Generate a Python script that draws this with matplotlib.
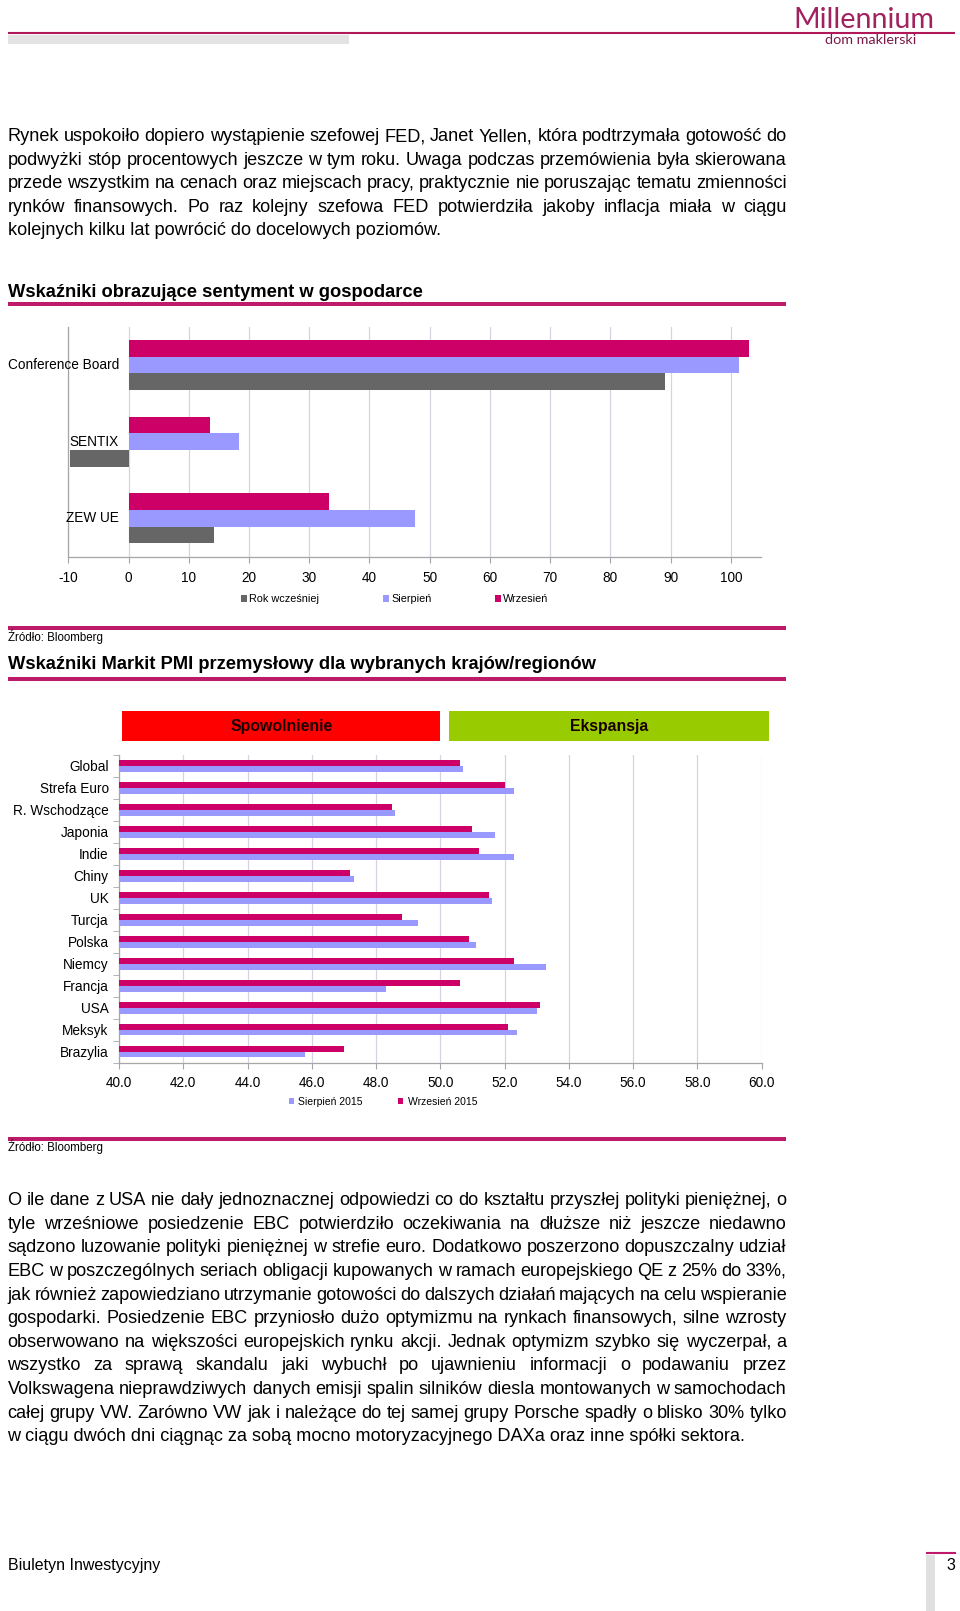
import matplotlib
matplotlib.use('Agg')
import matplotlib.pyplot as plt
import numpy as np
from matplotlib.patches import Rectangle
from matplotlib.lines import Line2D
from matplotlib.transforms import blended_transform_factory

plt.rcParams['font.family'] = ['Liberation Sans', 'DejaVu Sans']
plt.rcParams['axes.unicode_minus'] = False

W, H = 960, 1611

# --- data: sentiment indicators
sent_labels = ['Conference Board', 'SENTIX', 'ZEW UE']
sent_rok = [89.0, -9.7, 14.2]
sent_sie = [101.3, 18.3, 47.6]
sent_wrz = [103.0, 13.6, 33.3]
sent_ticks = [-10, 0, 10, 20, 30, 40, 50, 60, 70, 80, 90, 100]
sent_tick_labels = ['-10', '0', '10', '20', '30', '40', '50', '60', '70', '80', '90', '100']

# --- data: Markit PMI
pmi_labels = ['Global', 'Strefa Euro', 'R. Wschodzące', 'Japonia', 'Indie', 'Chiny', 'UK',
              'Turcja', 'Polska', 'Niemcy', 'Francja', 'USA', 'Meksyk', 'Brazylia']
pmi_sie = [50.7, 52.3, 48.6, 51.7, 52.3, 47.3, 51.6, 49.3, 51.1, 53.3, 48.3, 53.0, 52.4, 45.8]
pmi_wrz = [50.6, 52.0, 48.5, 51.0, 51.2, 47.2, 51.5, 48.8, 50.9, 52.3, 50.6, 53.1, 52.1, 47.0]
pmi_ticks = [40, 42, 44, 46, 48, 50, 52, 54, 56, 58, 60]

para1 = [
    "Rynek uspokoiło dopiero wystąpienie szefowej FED, Janet Yellen, która podtrzymała gotowość do",
    "podwyżki stóp procentowych jeszcze w tym roku. Uwaga podczas przemówienia była skierowana",
    "przede wszystkim na cenach oraz miejscach pracy, praktycznie nie poruszając tematu zmienności",
    "rynków finansowych. Po raz kolejny szefowa FED potwierdziła jakoby inflacja miała w ciągu",
    "kolejnych kilku lat powrócić do docelowych poziomów.",
]
para2 = [
    "O ile dane z USA nie dały jednoznacznej odpowiedzi co do kształtu przyszłej polityki pieniężnej, o",
    "tyle wrześniowe posiedzenie EBC potwierdziło oczekiwania na dłuższe niż jeszcze niedawno",
    "sądzono luzowanie polityki pieniężnej w strefie euro. Dodatkowo poszerzono dopuszczalny udział",
    "EBC w poszczególnych seriach obligacji kupowanych w ramach europejskiego QE z 25% do 33%,",
    "jak również zapowiedziano utrzymanie gotowości do dalszych działań mających na celu wspieranie",
    "gospodarki. Posiedzenie EBC przyniosło dużo optymizmu na rynkach finansowych, silne wzrosty",
    "obserwowano na większości europejskich rynku akcji. Jednak optymizm szybko się wyczerpał, a",
    "wszystko za sprawą skandalu jaki wybuchł po ujawnieniu informacji o podawaniu przez",
    "Volkswagena nieprawdziwych danych emisji spalin silników diesla montowanych w samochodach",
    "całej grupy VW. Zarówno VW jak i należące do tej samej grupy Porsche spadły o blisko 30% tylko",
    "w ciągu dwóch dni ciągnąc za sobą mocno motoryzacyjnego DAXa oraz inne spółki sektora.",
]

c_wrz = '#CC0066'
c_sie = '#9999FF'
c_rok = '#666666'
c_line = '#BE1A6A'
c_grid = '#D8D2E0'
c_axis = '#A6A6A6'
body_fs = 13.1


def fx(x):
    return x / W


def fy(y):
    return 1 - y / H


fig = plt.figure(figsize=(W / 100, H / 100), dpi=100)
renderer = fig.canvas.get_renderer()


def hline(x0, x1, y, lw, color):
    fig.add_artist(Line2D([fx(x0), fx(x1)], [fy(y), fy(y)], transform=fig.transFigure,
                          lw=lw, color=color, solid_capstyle='butt'))


def box(x0, y0, x1, y1, color):
    fig.add_artist(Rectangle((fx(x0), fy(y1)), fx(x1) - fx(x0), fy(y0) - fy(y1),
                             transform=fig.transFigure, color=color, lw=0))


def justify(line, y, x0=7.5, x1=786.7, size=body_fs, last=False):
    # spread the words so the line fills x0..x1, like the justified PDF text
    if last:
        fig.text(fx(x0), fy(y), line, fontsize=size, va='baseline', ha='left')
        return
    words = line.split()
    ts = [fig.text(0, fy(y), w, fontsize=size, va='baseline', ha='left') for w in words]
    ws = [t.get_window_extent(renderer).width for t in ts]
    gap = (x1 - x0 - sum(ws)) / (len(words) - 1)
    x = x0
    for t, w in zip(ts, ws):
        t.set_x(fx(x))
        x += w + gap


# header
hline(8, 955, 32.5, 1.5, '#B0185A')
box(8, 35, 349, 44, '#E3E3E3')
t = fig.text(fx(864), fy(28), 'Millennium', fontsize=20, color='#A0225F', ha='center',
             va='baseline', family='Lato')
t.set_fontsize(20 * 142 / t.get_window_extent(renderer).width)
t = fig.text(fx(871), fy(44.5), 'dom maklerski', fontsize=9.5, color='#7A1A48', ha='center',
             va='baseline', family='Lato')
t.set_fontsize(9.5 * 92 / t.get_window_extent(renderer).width)

# first paragraph
for k, line in enumerate(para1):
    justify(line, 141 + k * 23.6, last=(k == len(para1) - 1))

# section 1
fig.text(fx(7.5), fy(297), 'Wskaźniki obrazujące sentyment w gospodarce', fontsize=13.2,
         fontweight='bold', va='baseline')
hline(8, 786, 304.3, 2.9, c_line)

ax1 = fig.add_axes([fx(68.3), fy(556.7), (760.9 - 68.3) / W, (556.7 - 326.7) / H])
y = np.arange(len(sent_labels))
h = 0.2177
b_wrz = ax1.barh(y - h, sent_wrz, h, color=c_wrz, zorder=3, label='Wrzesień')
b_sie = ax1.barh(y, sent_sie, h, color=c_sie, zorder=3, label='Sierpień')
b_rok = ax1.barh(y + h, sent_rok, h, color=c_rok, zorder=3, label='Rok wcześniej')
ax1.set_xlim(-10, 105)
ax1.set_ylim(len(sent_labels) - 0.5, -0.5)
ax1.set_xticks(sent_ticks)
ax1.set_xticklabels(sent_tick_labels, fontsize=9.8)
ax1.set_yticks([])
ax1.grid(axis='x', color=c_grid, lw=0.9, zorder=0)
for s in ['top', 'right']:
    ax1.spines[s].set_visible(False)
for s in ['left', 'bottom']:
    ax1.spines[s].set_color(c_axis)
    ax1.spines[s].set_linewidth(0.9)
ax1.tick_params(axis='x', length=4, color=c_axis, pad=6)
for i, lab in enumerate(sent_labels):
    ax1.text(-1.6, i, lab, ha='right', va='center', fontsize=9.8, zorder=4)
fig.legend(handles=[b_rok, b_sie, b_wrz], loc='center', ncol=3, frameon=False, fontsize=7.8,
           bbox_to_anchor=(fx(394.8), fy(599.3)), bbox_transform=fig.transFigure,
           handlelength=0.55, handleheight=0.55, handletextpad=0.2, columnspacing=5.9,
           borderpad=0, borderaxespad=0)

hline(8, 786, 628.3, 2.9, c_line)
fig.text(fx(8), fy(640.5), 'Źródło: Bloomberg', fontsize=8.3, va='baseline')

# section 2
fig.text(fx(7.5), fy(669), 'Wskaźniki Markit PMI przemysłowy dla wybranych krajów/regionów',
         fontsize=13.2, fontweight='bold', va='baseline')
hline(8, 786, 679, 2.9, c_line)

ax2 = fig.add_axes([fx(119), fy(1062.5), (761.7 - 119) / W, (1062.5 - 755) / H])
yy = np.arange(len(pmi_labels))
hb = 0.27
p_wrz = ax2.barh(yy - hb / 2, pmi_wrz, hb, color=c_wrz, zorder=3, label='Wrzesień 2015')
p_sie = ax2.barh(yy + hb / 2, pmi_sie, hb, color=c_sie, zorder=3, label='Sierpień 2015')

# slowdown / expansion banners above the plot, tied to the x scale
trans = blended_transform_factory(ax2.transData, fig.transFigure)
ax2.add_patch(Rectangle((40.1, fy(741)), 9.9, 30 / H, transform=trans, clip_on=False,
                        color='#FF0000', lw=0))
ax2.add_patch(Rectangle((50.28, fy(741)), 9.96, 30 / H, transform=trans, clip_on=False,
                        color='#99CC00', lw=0))
ax2.text(45.05, fy(726), 'Spowolnienie', transform=trans, ha='center', va='center',
         fontsize=11.4, fontweight='bold', color='#1A0000')
ax2.text(55.26, fy(726), 'Ekspansja', transform=trans, ha='center', va='center',
         fontsize=11.4, fontweight='bold', color='#1A0000')

ax2.set_xlim(40, 60)
ax2.set_ylim(len(pmi_labels) - 0.5, -0.5)
ax2.set_xticks(pmi_ticks)
ax2.set_xticklabels(['%.1f' % v for v in pmi_ticks], fontsize=9.8)
ax2.set_yticks(yy)
ax2.set_yticklabels(pmi_labels, fontsize=9.8)
ax2.set_yticks(np.arange(len(pmi_labels) + 1) - 0.5, minor=True)
ax2.tick_params(axis='y', which='major', length=0, pad=7.4)
ax2.tick_params(axis='y', which='minor', length=4, color=c_axis)
ax2.tick_params(axis='x', length=4, color=c_axis, pad=6)
ax2.grid(axis='x', color=c_grid, lw=0.9, zorder=0)
for s in ['top', 'right']:
    ax2.spines[s].set_visible(False)
for s in ['left', 'bottom']:
    ax2.spines[s].set_color(c_axis)
    ax2.spines[s].set_linewidth(0.9)
fig.legend(handles=[p_sie, p_wrz], loc='center', ncol=2, frameon=False, fontsize=7.5,
           bbox_to_anchor=(fx(382.9), fy(1101.7)), bbox_transform=fig.transFigure,
           handlelength=0.48, handleheight=0.48, handletextpad=0.4, columnspacing=3.46,
           borderpad=0, borderaxespad=0)

hline(8, 786, 1138.8, 2.9, c_line)
fig.text(fx(8), fy(1151.5), 'Źródło: Bloomberg', fontsize=8.3, va='baseline')

# second paragraph
for k, line in enumerate(para2):
    justify(line, 1205 + k * 23.64, last=(k == len(para2) - 1))

# footer
fig.text(fx(8), fy(1570), 'Biuletyn Inwestycyjny', fontsize=11.5, va='baseline')
hline(926, 956, 1553.3, 1.5, '#C0186A')
box(926, 1555, 935, 1611, '#E0E0E0')
fig.text(fx(951), fy(1570), '3', fontsize=11.5, va='baseline', ha='center')

fig.savefig('out.png', dpi=100)
